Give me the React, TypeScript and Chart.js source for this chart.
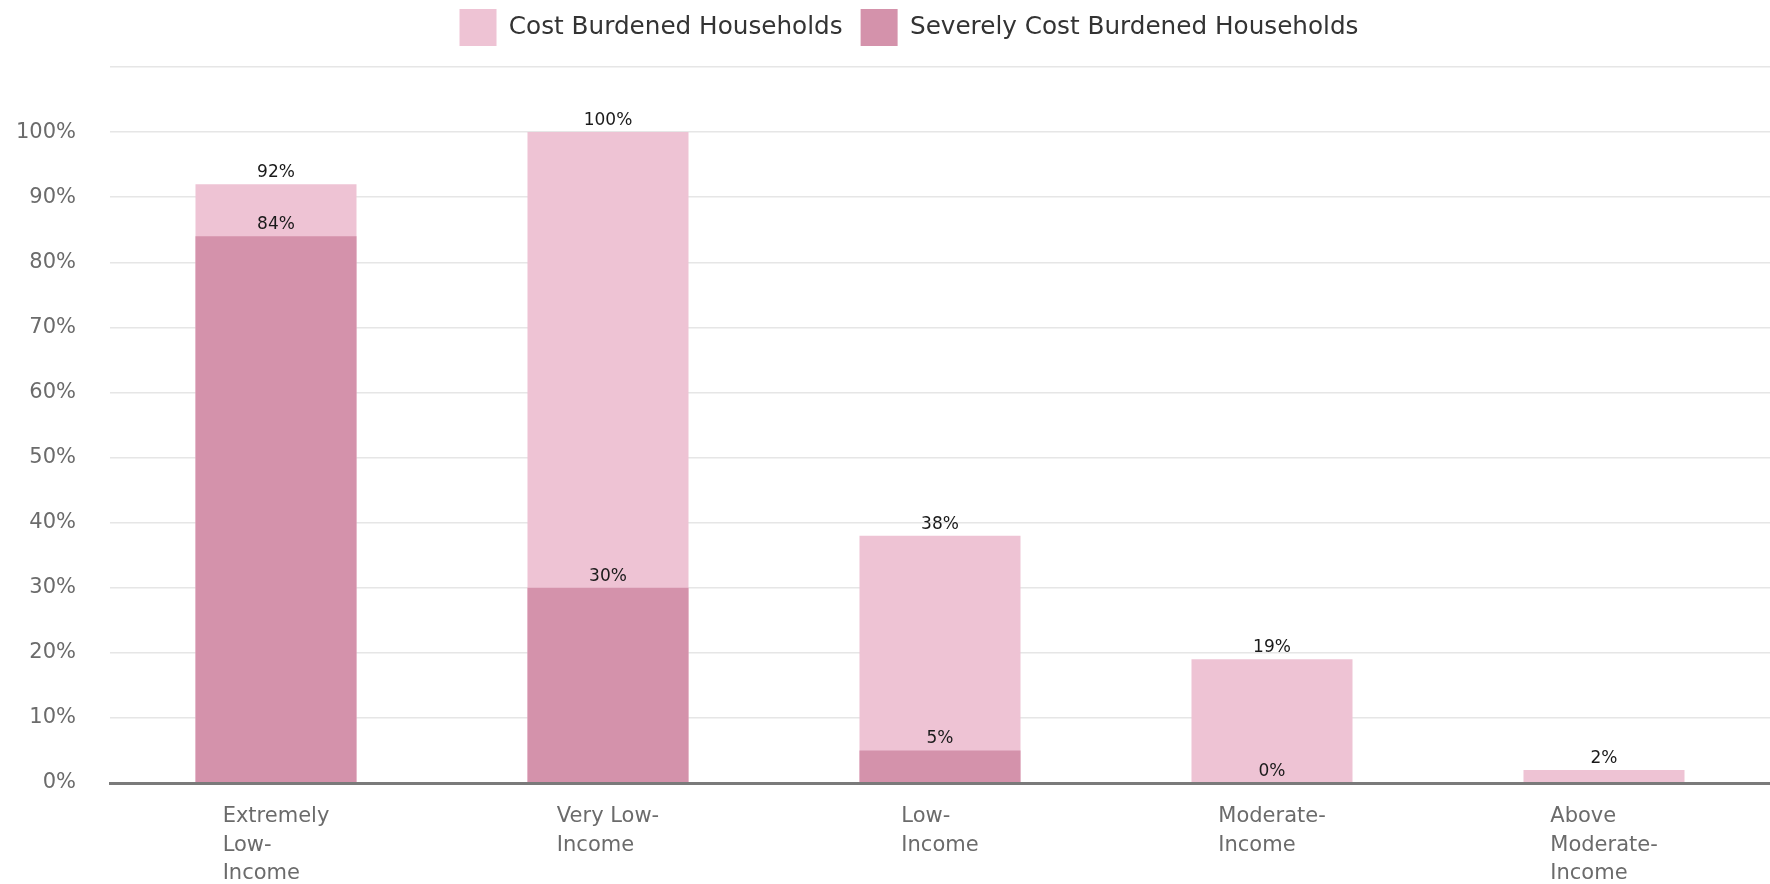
import React, { useEffect, useRef } from "react";
import { Chart, registerables } from "chart.js";

Chart.register(...registerables);

const categories: string[][] = [
  ["Extremely", "Low-", "Income"],
  ["Very Low-", "Income"],
  ["Low-", "Income"],
  ["Moderate-", "Income"],
  ["Above", "Moderate-", "Income"],
];
const costBurdened: (number | null)[] = [92, 100, 38, 19, 2];
const severelyCostBurdened: (number | null)[] = [84, 30, 5, 0, null];
const seriesNames = ["Cost Burdened Households", "Severely Cost Burdened Households"];
const yMax = 110;
const yStep = 10;

const FONT = "'DejaVu Sans', sans-serif";
const LEGEND_PAD = 18;

const dataLabelPlugin = {
  id: "dataLabels",
  afterDatasetsDraw(chart: any) {
    const ctx = chart.ctx;
    ctx.save();
    ctx.font = `17px ${FONT}`;
    ctx.fillStyle = "#1a1a1a";
    ctx.textAlign = "center";
    ctx.textBaseline = "alphabetic";
    chart.data.datasets.forEach((ds: any, di: number) => {
      const meta = chart.getDatasetMeta(di);
      meta.data.forEach((bar: any, i: number) => {
        const v = ds.data[i];
        if (v === null || v === undefined) return;
        ctx.fillText(`${v}%`, bar.x, bar.y - 7);
      });
    });
    ctx.restore();
  },
};

const xLabelPlugin = {
  id: "xLabels",
  afterDraw(chart: any) {
    const ctx = chart.ctx;
    const xs = chart.scales.x;
    ctx.save();
    ctx.font = `21px ${FONT}`;
    ctx.fillStyle = "#6b6b6b";
    ctx.textAlign = "left";
    ctx.textBaseline = "middle";
    categories.forEach((lines, i) => {
      const cx = xs.getPixelForValue(i);
      const w = Math.max(...lines.map((l) => ctx.measureText(l).width));
      const x0 = cx - w / 2;
      lines.forEach((l, j) => {
        ctx.fillText(l, x0, xs.top + 34 + j * 28.5);
      });
    });
    ctx.restore();
  },
};

const legendShiftPlugin = {
  id: "legendShift",
  afterLayout(chart: any) {
    const lg = chart.legend;
    if (!lg) return;
    const dx = 24;
    const dy = 9 - (lg.top + LEGEND_PAD);
    lg.left += dx;
    lg.right += dx;
    lg.top += dy;
    lg.bottom += dy;
  },
};

export default function App() {
  const ref = useRef<HTMLCanvasElement | null>(null);
  useEffect(() => {
    if (!ref.current) return;
    const chart = new Chart(ref.current, {
      type: "bar",
      data: {
        labels: categories.map((c) => c.join(" ")),
        datasets: [
          {
            label: seriesNames[0],
            data: costBurdened,
            backgroundColor: "#EEC3D4",
            order: 1,
            categoryPercentage: 1,
            barPercentage: 0.485,
          },
          {
            label: seriesNames[1],
            data: severelyCostBurdened,
            backgroundColor: "#D492AB",
            order: 0,
            categoryPercentage: 1,
            barPercentage: 0.485,
          },
        ],
      },
      options: {
        animation: false,
        responsive: true,
        maintainAspectRatio: false,
        layout: { padding: { left: 0, right: 0, top: 0, bottom: 0 } },
        plugins: {
          tooltip: { enabled: false },
          legend: {
            position: "top",
            labels: {
              boxWidth: 37,
              boxHeight: 37,
              padding: LEGEND_PAD,
              color: "#333",
              font: { family: FONT, size: 24.7 },
              sort: (a: any, b: any) => a.datasetIndex - b.datasetIndex,
            },
          },
        },
        scales: {
          x: {
            stacked: true,
            grid: { display: false },
            border: { display: true, color: "#7a7a7a", width: 3, z: 1 },
            ticks: { color: "rgba(0,0,0,0)", font: { family: FONT, size: 21 } },
            afterFit: (s: any) => {
              s.height = 101;
            },
          } as any,
          y: {
            stacked: false,
            min: 0,
            max: yMax,
            grid: { color: "#e6e6e6", lineWidth: 1.5, drawTicks: false },
            border: { display: false },
            ticks: {
              stepSize: yStep,
              padding: 34,
              color: "#6b6b6b",
              font: { family: FONT, size: 21 },
              callback: (v: any) => (Number(v) >= yMax ? "" : `${v}%`),
            },
            afterFit: (s: any) => {
              s.width = 110;
              s.paddingTop = 67;
            },
          } as any,
        },
      } as any,
      plugins: [dataLabelPlugin, xLabelPlugin, legendShiftPlugin],
    });
    return () => chart.destroy();
  }, []);
  return (
    <div style={{ position: "fixed", left: 0, top: 0, width: 1770, height: 884, background: "#fff" }}>
      <canvas ref={ref} />
    </div>
  );
}
